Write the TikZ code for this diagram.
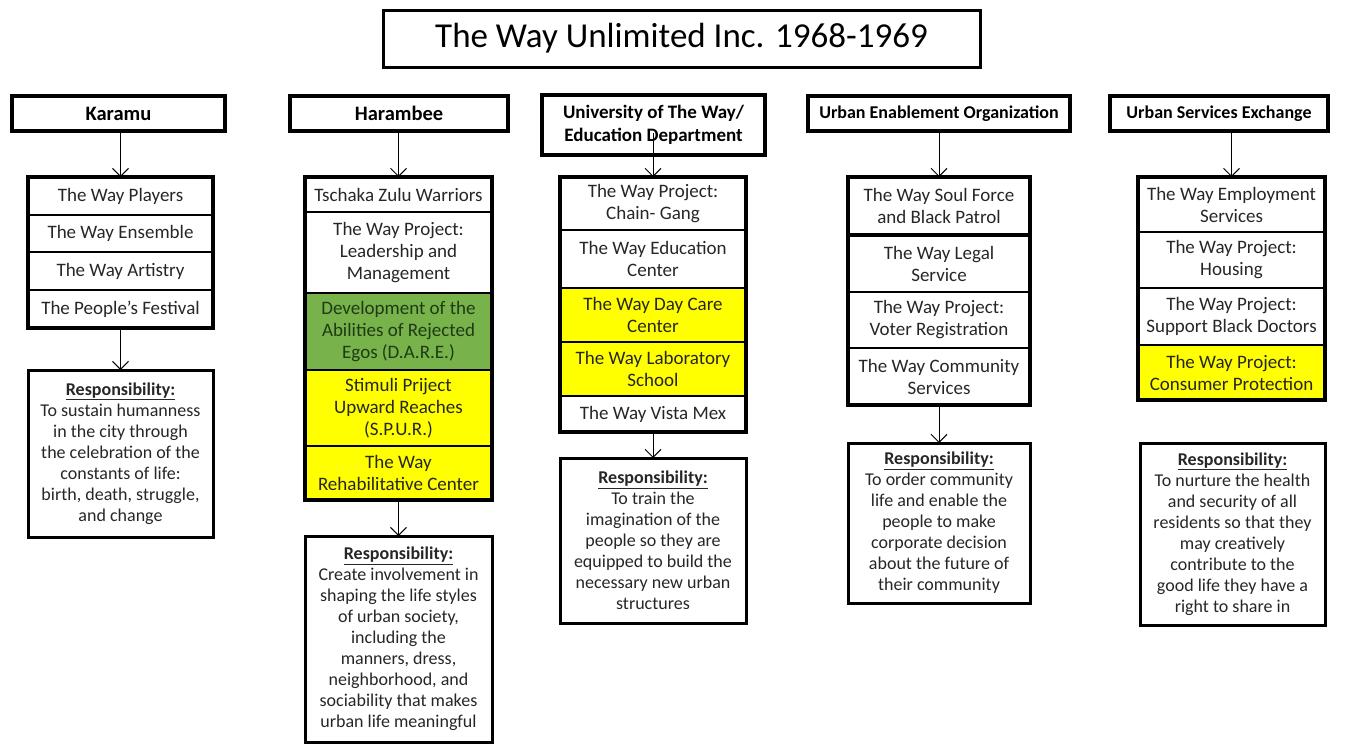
\documentclass[tikz,border=0pt]{standalone}
\usepackage{fontspec}
\setmainfont{Carlito}
\usetikzlibrary{arrows.meta,positioning}
\definecolor{wayyellow}{HTML}{FFFF00}
\definecolor{daregreen}{HTML}{77B24A}
\definecolor{txtgray}{HTML}{262626}
\definecolor{daretext}{HTML}{1F3A14}
\newcommand{\resphead}{\underline{\textbf{Responsibility:}}}

\begin{document}
\begin{tikzpicture}[x=1pt, y=-1pt,
  box/.style={draw=black, line width=3pt, outer sep=0pt, inner sep=1pt, align=center, anchor=north},
  titlebox/.style={box, minimum width=597pt, minimum height=57pt, font=\fontsize{35}{40}\selectfont},
  head/.style={box, line width=3.5pt, minimum height=35pt, font=\bfseries\fontsize{18}{22}\selectfont},
  bighead/.style={head, font=\bfseries\fontsize{20.5}{24}\selectfont},
  item/.style={box, line width=2.5pt, text=txtgray, font=\fontsize{19}{22}\selectfont},
  resp/.style={box, text=txtgray, font=\fontsize{18}{21}\selectfont},
  yellowitem/.style={item, fill=wayyellow},
  greenitem/.style={item, fill=daregreen, text=daretext},
  frame/.style={draw=black, line width=4pt},
  link/.style={-{Straight Barb[length=8pt,width=16pt]}, line width=1pt}]
  \useasboundingbox (0,0) rectangle (1354,750);

  \node[titlebox] (title) at (681.5,10) {The Way Unlimited Inc. 1968-1969};

  % Karamu
  \node[bighead, minimum width=213pt] (karhead) at (118.5,96) {Karamu};
  \node[item, minimum width=185pt, minimum height=38pt] (kar1) at (120.5,177) {The Way Players};
  \node[item, minimum width=185pt, minimum height=37pt] (kar2) at (kar1.south) {The Way Ensemble};
  \node[item, minimum width=185pt, minimum height=38pt] (kar3) at (kar2.south) {The Way Artistry};
  \node[item, minimum width=185pt, minimum height=38pt] (kar4) at (kar3.south) {The People’s Festival};
  \draw[frame] (kar1.north west) rectangle (kar4.south east);
  \node[resp, minimum width=185pt, minimum height=167pt] (karresp) at (120.5,370)
    {\resphead\\To sustain humanness\\in the city through\\the celebration of the\\constants of life:\\birth, death, struggle,\\and change};
  \draw[link] (kar1.north |- karhead.south) -- (kar1.north);
  \draw[link] (kar4.south) -- (karresp.north);

  % Harambee
  \node[bighead, minimum width=218pt] (harhead) at (399,96) {Harambee};
  \node[item, minimum width=187pt, minimum height=35pt] (har1) at (398.5,177) {Tschaka Zulu Warriors};
  \node[item, minimum width=187pt, minimum height=81pt] (har2) at (har1.south) {The Way Project:\\Leadership and\\Management};
  \node[greenitem, minimum width=187pt, minimum height=77pt] (har3) at (har2.south) {Development of the\\Abilities of Rejected\\Egos (D.A.R.E.)};
  \node[yellowitem, minimum width=187pt, minimum height=76pt] (har4) at (har3.south) {Stimuli Priject\\Upward Reaches\\(S.P.U.R.)};
  \node[yellowitem, minimum width=187pt, minimum height=54pt] (har5) at (har4.south) {The Way\\Rehabilitative Center};
  \draw[frame] (har1.north west) rectangle (har5.south east);
  \node[resp, minimum width=187pt, minimum height=206pt] (harresp) at (398.5,536)
    {\resphead\\Create involvement in\\shaping the life styles\\of urban society,\\including the\\manners, dress,\\neighborhood, and\\sociability that makes\\urban life meaningful};
  \draw[link] (har1.north |- harhead.south) -- (har1.north);
  \draw[link] (har5.south) -- (harresp.north);

  % University of The Way
  \node[head, minimum width=223pt, minimum height=60pt, font=\bfseries\fontsize{19}{23}\selectfont] (unihead) at (653.5,95) {University of The Way/\\Education Department};
  \node[item, minimum width=186pt, minimum height=53pt] (uni1) at (653,177) {The Way Project:\\Chain- Gang};
  \node[item, minimum width=186pt, minimum height=58pt] (uni2) at (uni1.south) {The Way Education\\Center};
  \node[yellowitem, minimum width=186pt, minimum height=54pt] (uni3) at (uni2.south) {The Way Day Care\\Center};
  \node[yellowitem, minimum width=186pt, minimum height=54pt] (uni4) at (uni3.south) {The Way Laboratory\\School};
  \node[item, minimum width=186pt, minimum height=36pt] (uni5) at (uni4.south) {The Way Vista Mex};
  \draw[frame] (uni1.north west) rectangle (uni5.south east);
  \node[resp, minimum width=186pt, minimum height=165pt] (uniresp) at (653,458)
    {\resphead\\To train the\\imagination of the\\people so they are\\equipped to build the\\necessary new urban\\structures};
  \coordinate (unistart) at (653,133);
  \draw[link] (unistart) -- (uni1.north);
  \draw[link] (uni5.south) -- (uniresp.north);

  % Urban Enablement Organization
  \node[head, minimum width=262pt] (ueohead) at (939,96) {Urban Enablement Organization};
  \node[item, line width=3.5pt, minimum width=182pt, minimum height=58pt] (ueo1) at (939,177) {The Way Soul Force\\and Black Patrol};
  \node[item, minimum width=182pt, minimum height=57pt] (ueo2) at (ueo1.south) {The Way Legal\\Service};
  \node[item, minimum width=182pt, minimum height=56pt] (ueo3) at (ueo2.south) {The Way Project:\\Voter Registration};
  \node[item, minimum width=182pt, minimum height=57pt] (ueo4) at (ueo3.south) {The Way Community\\Services};
  \draw[frame] (ueo1.north west) rectangle (ueo4.south east);
  \node[resp, minimum width=182pt, minimum height=160pt] (ueoresp) at (939,443)
    {\resphead\\To order community\\life and enable the\\people to make\\corporate decision\\about the future of\\their community};
  \draw[link] (ueo1.north |- ueohead.south) -- (ueo1.north);
  \draw[link] (ueo4.south) -- (ueoresp.north);

  % Urban Services Exchange
  \node[head, minimum width=218pt] (usehead) at (1219,96) {Urban Services Exchange};
  \node[item, minimum width=187pt, minimum height=55pt] (use1) at (1231.5,177) {The Way Employment\\Services};
  \node[item, minimum width=187pt, minimum height=56pt] (use2) at (use1.south) {The Way Project:\\Housing};
  \node[item, minimum width=187pt, minimum height=57pt] (use3) at (use2.south) {The Way Project:\\Support Black Doctors};
  \node[yellowitem, minimum width=187pt, minimum height=55pt] (use4) at (use3.south) {The Way Project:\\Consumer Protection};
  \draw[frame] (use1.north west) rectangle (use4.south east);
  \node[resp, minimum width=185pt, minimum height=182pt] (useresp) at (1232.5,443)
    {\resphead\\To nurture the health\\and security of all\\residents so that they\\may creatively\\contribute to the\\good life they have a\\right to share in};
  \draw[link] (use1.north |- usehead.south) -- (use1.north);
\end{tikzpicture}
\end{document}
